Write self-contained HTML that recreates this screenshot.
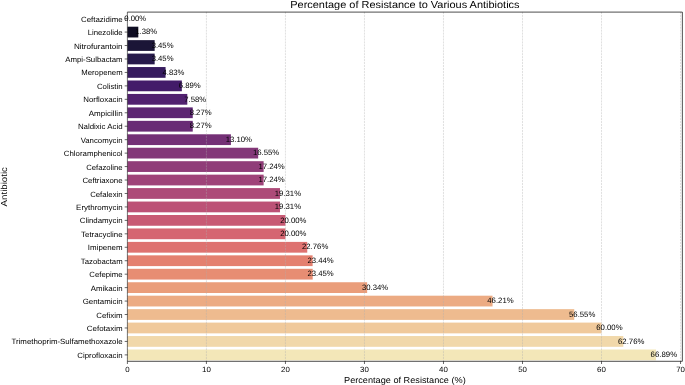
<!DOCTYPE html>
<html><head><meta charset="utf-8"><title>Percentage of Resistance to Various Antibiotics</title><style>html,body{margin:0;padding:0;background:#fff;width:685px;height:385px;overflow:hidden}svg{display:block;will-change:transform}text{font-family:"Liberation Sans",sans-serif;fill:#000;text-rendering:geometricPrecision;}</style></head><body>
<svg width="685" height="385" viewBox="0 0 685 385">
<rect width="685" height="385" fill="#fff"/>
<g>
<rect x="127.4" y="26.695" width="10.905" height="10.76" fill="#0f0d23"/>
<rect x="127.4" y="40.145" width="27.262" height="10.76" fill="#1b1537"/>
<rect x="127.4" y="53.595" width="27.262" height="10.76" fill="#271a4b"/>
<rect x="127.4" y="67.045" width="38.167" height="10.76" fill="#361b5e"/>
<rect x="127.4" y="80.495" width="54.445" height="10.76" fill="#431c69"/>
<rect x="127.4" y="93.945" width="59.897" height="10.76" fill="#512170"/>
<rect x="127.4" y="107.395" width="65.35" height="10.76" fill="#5d2673"/>
<rect x="127.4" y="120.845" width="65.35" height="10.76" fill="#692c75"/>
<rect x="127.4" y="134.295" width="103.516" height="10.76" fill="#743076"/>
<rect x="127.4" y="147.745" width="130.778" height="10.76" fill="#833778"/>
<rect x="127.4" y="161.195" width="136.23" height="10.76" fill="#903d79"/>
<rect x="127.4" y="174.645" width="136.23" height="10.76" fill="#9f4379"/>
<rect x="127.4" y="188.095" width="152.588" height="10.76" fill="#ad4a78"/>
<rect x="127.4" y="201.545" width="152.588" height="10.76" fill="#bc5176"/>
<rect x="127.4" y="214.995" width="158.04" height="10.76" fill="#c85a74"/>
<rect x="127.4" y="228.445" width="158.04" height="10.76" fill="#d56571"/>
<rect x="127.4" y="241.895" width="179.85" height="10.76" fill="#de7270"/>
<rect x="127.4" y="255.345" width="185.223" height="10.76" fill="#e4806f"/>
<rect x="127.4" y="268.795" width="185.302" height="10.76" fill="#e78d73"/>
<rect x="127.4" y="282.245" width="239.747" height="10.76" fill="#ea9d7a"/>
<rect x="127.4" y="295.695" width="365.151" height="10.76" fill="#ecab83"/>
<rect x="127.4" y="309.145" width="446.858" height="10.76" fill="#eebb8f"/>
<rect x="127.4" y="322.595" width="474.12" height="10.76" fill="#f0c99b"/>
<rect x="127.4" y="336.045" width="495.93" height="10.76" fill="#f1d8aa"/>
<rect x="127.4" y="349.495" width="528.565" height="10.76" fill="#f3e7b8"/>
</g>
<g stroke="#b0b0b0" stroke-opacity="0.7" stroke-width="0.56" stroke-dasharray="2.06 0.89">
<line x1="127.4" y1="11.9" x2="127.4" y2="361.6"/>
<line x1="206.42" y1="11.9" x2="206.42" y2="361.6"/>
<line x1="285.44" y1="11.9" x2="285.44" y2="361.6"/>
<line x1="364.46" y1="11.9" x2="364.46" y2="361.6"/>
<line x1="443.48" y1="11.9" x2="443.48" y2="361.6"/>
<line x1="522.5" y1="11.9" x2="522.5" y2="361.6"/>
<line x1="601.52" y1="11.9" x2="601.52" y2="361.6"/>
<line x1="680.54" y1="11.9" x2="680.54" y2="361.6"/>
</g>
<g font-size="7.8" text-anchor="middle">
<text x="135.302" y="20.825" textLength="21.875" lengthAdjust="spacingAndGlyphs">0.00%</text>
<text x="146.207" y="34.275" textLength="22" lengthAdjust="spacingAndGlyphs">1.38%</text>
<text x="162.564" y="47.725" textLength="21.875" lengthAdjust="spacingAndGlyphs">3.45%</text>
<text x="162.564" y="61.175" textLength="21.875" lengthAdjust="spacingAndGlyphs">3.45%</text>
<text x="173.469" y="74.625" textLength="21.938" lengthAdjust="spacingAndGlyphs">4.83%</text>
<text x="189.747" y="88.075" textLength="22.062" lengthAdjust="spacingAndGlyphs">6.89%</text>
<text x="195.199" y="101.525" textLength="21.938" lengthAdjust="spacingAndGlyphs">7.58%</text>
<text x="200.652" y="114.975" textLength="21.938" lengthAdjust="spacingAndGlyphs">8.27%</text>
<text x="200.652" y="128.425" textLength="21.938" lengthAdjust="spacingAndGlyphs">8.27%</text>
<text x="238.818" y="141.875" textLength="26.375" lengthAdjust="spacingAndGlyphs">13.10%</text>
<text x="266.08" y="155.325" textLength="26.375" lengthAdjust="spacingAndGlyphs">16.55%</text>
<text x="271.532" y="168.775" textLength="26.312" lengthAdjust="spacingAndGlyphs">17.24%</text>
<text x="271.532" y="182.225" textLength="26.312" lengthAdjust="spacingAndGlyphs">17.24%</text>
<text x="287.89" y="195.675" textLength="26.438" lengthAdjust="spacingAndGlyphs">19.31%</text>
<text x="287.89" y="209.125" textLength="26.438" lengthAdjust="spacingAndGlyphs">19.31%</text>
<text x="293.342" y="222.575" textLength="26.25" lengthAdjust="spacingAndGlyphs">20.00%</text>
<text x="293.342" y="236.025" textLength="26.25" lengthAdjust="spacingAndGlyphs">20.00%</text>
<text x="315.152" y="249.475" textLength="26.312" lengthAdjust="spacingAndGlyphs">22.76%</text>
<text x="320.525" y="262.925" textLength="26.25" lengthAdjust="spacingAndGlyphs">23.44%</text>
<text x="320.604" y="276.375" textLength="26.25" lengthAdjust="spacingAndGlyphs">23.45%</text>
<text x="375.049" y="289.825" textLength="26.25" lengthAdjust="spacingAndGlyphs">30.34%</text>
<text x="500.453" y="303.275" textLength="26.375" lengthAdjust="spacingAndGlyphs">46.21%</text>
<text x="582.16" y="316.725" textLength="26.312" lengthAdjust="spacingAndGlyphs">56.55%</text>
<text x="609.422" y="330.175" textLength="26.312" lengthAdjust="spacingAndGlyphs">60.00%</text>
<text x="631.232" y="343.625" textLength="26.375" lengthAdjust="spacingAndGlyphs">62.76%</text>
<text x="663.867" y="357.075" textLength="26.5" lengthAdjust="spacingAndGlyphs">66.89%</text>
</g>
<g stroke="#000" fill="none">
<line x1="127.4" y1="12.1" x2="127.4" y2="361.3" stroke-width="0.5"/>
<line x1="682.35" y1="12.1" x2="682.35" y2="361.3" stroke-width="0.7"/>
<line x1="127.4" y1="12.1" x2="682.35" y2="12.1" stroke-width="0.7"/>
<line x1="127.4" y1="361.3" x2="682.35" y2="361.3" stroke-width="0.7"/>
<line x1="124.7" y1="18.625" x2="127.4" y2="18.625" stroke-width="0.6"/>
<line x1="124.7" y1="32.075" x2="127.4" y2="32.075" stroke-width="0.6"/>
<line x1="124.7" y1="45.525" x2="127.4" y2="45.525" stroke-width="0.6"/>
<line x1="124.7" y1="58.975" x2="127.4" y2="58.975" stroke-width="0.6"/>
<line x1="124.7" y1="72.425" x2="127.4" y2="72.425" stroke-width="0.6"/>
<line x1="124.7" y1="85.875" x2="127.4" y2="85.875" stroke-width="0.6"/>
<line x1="124.7" y1="99.325" x2="127.4" y2="99.325" stroke-width="0.6"/>
<line x1="124.7" y1="112.775" x2="127.4" y2="112.775" stroke-width="0.6"/>
<line x1="124.7" y1="126.225" x2="127.4" y2="126.225" stroke-width="0.6"/>
<line x1="124.7" y1="139.675" x2="127.4" y2="139.675" stroke-width="0.6"/>
<line x1="124.7" y1="153.125" x2="127.4" y2="153.125" stroke-width="0.6"/>
<line x1="124.7" y1="166.575" x2="127.4" y2="166.575" stroke-width="0.6"/>
<line x1="124.7" y1="180.025" x2="127.4" y2="180.025" stroke-width="0.6"/>
<line x1="124.7" y1="193.475" x2="127.4" y2="193.475" stroke-width="0.6"/>
<line x1="124.7" y1="206.925" x2="127.4" y2="206.925" stroke-width="0.6"/>
<line x1="124.7" y1="220.375" x2="127.4" y2="220.375" stroke-width="0.6"/>
<line x1="124.7" y1="233.825" x2="127.4" y2="233.825" stroke-width="0.6"/>
<line x1="124.7" y1="247.275" x2="127.4" y2="247.275" stroke-width="0.6"/>
<line x1="124.7" y1="260.725" x2="127.4" y2="260.725" stroke-width="0.6"/>
<line x1="124.7" y1="274.175" x2="127.4" y2="274.175" stroke-width="0.6"/>
<line x1="124.7" y1="287.625" x2="127.4" y2="287.625" stroke-width="0.6"/>
<line x1="124.7" y1="301.075" x2="127.4" y2="301.075" stroke-width="0.6"/>
<line x1="124.7" y1="314.525" x2="127.4" y2="314.525" stroke-width="0.6"/>
<line x1="124.7" y1="327.975" x2="127.4" y2="327.975" stroke-width="0.6"/>
<line x1="124.7" y1="341.425" x2="127.4" y2="341.425" stroke-width="0.6"/>
<line x1="124.7" y1="354.875" x2="127.4" y2="354.875" stroke-width="0.6"/>
<line x1="127.4" y1="361.3" x2="127.4" y2="364" stroke-width="0.6"/>
<line x1="206.42" y1="361.3" x2="206.42" y2="364" stroke-width="0.6"/>
<line x1="285.44" y1="361.3" x2="285.44" y2="364" stroke-width="0.6"/>
<line x1="364.46" y1="361.3" x2="364.46" y2="364" stroke-width="0.6"/>
<line x1="443.48" y1="361.3" x2="443.48" y2="364" stroke-width="0.6"/>
<line x1="522.5" y1="361.3" x2="522.5" y2="364" stroke-width="0.6"/>
<line x1="601.52" y1="361.3" x2="601.52" y2="364" stroke-width="0.6"/>
<line x1="680.54" y1="361.3" x2="680.54" y2="364" stroke-width="0.6"/>
</g>
<g font-size="7.6" text-anchor="end">
<text x="122.6" y="21.675" textLength="41.562" lengthAdjust="spacingAndGlyphs">Ceftazidime</text>
<text x="122.6" y="35.125" textLength="34.938" lengthAdjust="spacingAndGlyphs">Linezolide</text>
<text x="122.6" y="48.575" textLength="48.625" lengthAdjust="spacingAndGlyphs">Nitrofurantoin</text>
<text x="122.6" y="62.025" textLength="57.375" lengthAdjust="spacingAndGlyphs">Ampi-Sulbactam</text>
<text x="122.6" y="75.475" textLength="41.312" lengthAdjust="spacingAndGlyphs">Meropenem</text>
<text x="122.6" y="88.925" textLength="25.625" lengthAdjust="spacingAndGlyphs">Colistin</text>
<text x="122.6" y="102.375" textLength="39.375" lengthAdjust="spacingAndGlyphs">Norfloxacin</text>
<text x="122.6" y="115.825" textLength="33.812" lengthAdjust="spacingAndGlyphs">Ampicillin</text>
<text x="122.6" y="129.275" textLength="44.688" lengthAdjust="spacingAndGlyphs">Naldixic Acid</text>
<text x="122.6" y="142.725" textLength="41.938" lengthAdjust="spacingAndGlyphs">Vancomycin</text>
<text x="122.6" y="156.175" textLength="58.75" lengthAdjust="spacingAndGlyphs">Chloramphenicol</text>
<text x="122.6" y="169.625" textLength="36.375" lengthAdjust="spacingAndGlyphs">Cefazoline</text>
<text x="122.6" y="183.075" textLength="40.188" lengthAdjust="spacingAndGlyphs">Ceftriaxone</text>
<text x="122.6" y="196.525" textLength="32.438" lengthAdjust="spacingAndGlyphs">Cefalexin</text>
<text x="122.6" y="209.975" textLength="46.5" lengthAdjust="spacingAndGlyphs">Erythromycin</text>
<text x="122.6" y="223.425" textLength="42.875" lengthAdjust="spacingAndGlyphs">Clindamycin</text>
<text x="122.6" y="236.875" textLength="41.5" lengthAdjust="spacingAndGlyphs">Tetracycline</text>
<text x="122.6" y="250.325" textLength="34.75" lengthAdjust="spacingAndGlyphs">Imipenem</text>
<text x="122.6" y="263.775" textLength="41.75" lengthAdjust="spacingAndGlyphs">Tazobactam</text>
<text x="122.6" y="277.225" textLength="33.25" lengthAdjust="spacingAndGlyphs">Cefepime</text>
<text x="122.6" y="290.675" textLength="31.812" lengthAdjust="spacingAndGlyphs">Amikacin</text>
<text x="122.6" y="304.125" textLength="39.875" lengthAdjust="spacingAndGlyphs">Gentamicin</text>
<text x="122.6" y="317.575" textLength="26.375" lengthAdjust="spacingAndGlyphs">Cefixim</text>
<text x="122.6" y="331.025" textLength="35.75" lengthAdjust="spacingAndGlyphs">Cefotaxim</text>
<text x="122.6" y="344.475" textLength="111.125" lengthAdjust="spacingAndGlyphs">Trimethoprim-Sulfamethoxazole</text>
<text x="122.6" y="357.925" textLength="45.312" lengthAdjust="spacingAndGlyphs">Ciprofloxacin</text>
</g>
<g font-size="7.6" text-anchor="middle">
<text x="127.4" y="372" textLength="4.375" lengthAdjust="spacingAndGlyphs">0</text>
<text x="206.42" y="372" textLength="8.812" lengthAdjust="spacingAndGlyphs">10</text>
<text x="285.44" y="372" textLength="8.75" lengthAdjust="spacingAndGlyphs">20</text>
<text x="364.46" y="372" textLength="8.75" lengthAdjust="spacingAndGlyphs">30</text>
<text x="443.48" y="372" textLength="8.75" lengthAdjust="spacingAndGlyphs">40</text>
<text x="522.5" y="372" textLength="8.75" lengthAdjust="spacingAndGlyphs">50</text>
<text x="601.52" y="372" textLength="8.812" lengthAdjust="spacingAndGlyphs">60</text>
<text x="680.54" y="372" textLength="8.75" lengthAdjust="spacingAndGlyphs">70</text>
</g>
<g text-anchor="middle">
<text x="404.897" y="382.5" font-size="8.7" textLength="121.75" lengthAdjust="spacingAndGlyphs">Percentage of Resistance (%)</text>
<text transform="translate(7,186.75) rotate(-90)" x="0" y="0" font-size="8.7" textLength="39.25" lengthAdjust="spacingAndGlyphs">Antibiotic</text>
<text x="404.897" y="7.7" font-size="10.1" textLength="229.312" lengthAdjust="spacingAndGlyphs">Percentage of Resistance to Various Antibiotics</text>
</g>
</svg>
</body></html>
